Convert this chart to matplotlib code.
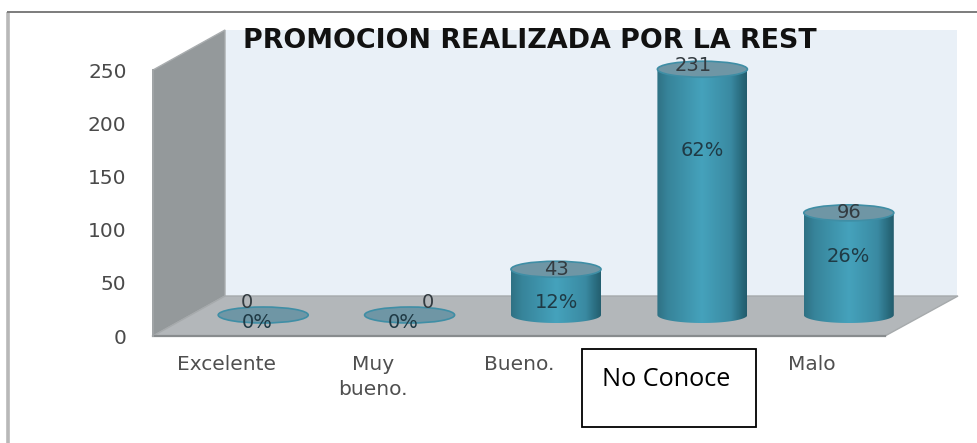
import numpy as np
import matplotlib
matplotlib.use("Agg")
import matplotlib.pyplot as plt
from matplotlib.patches import Polygon, Ellipse, Rectangle
from matplotlib.colors import LinearSegmentedColormap
from matplotlib.transforms import Affine2D

categories = ["Excelente", "Muy\nbueno.", "Bueno.", "No Conoce", "Malo"]
values = [0, 0, 43, 231, 96]
percents = ["0%", "0%", "12%", "62%", "26%"]
yticks = [0, 50, 100, 150, 200, 250]
title = "PROMOCION REALIZADA POR LA REST"

# Label placement (pixels, relative to the cap of each cylinder / its base)
value_dx = [-16, 18, 0, -9, 0]
value_dy = [13, 13, 0, 4, 0]
percent_dx = [-6, -6, 1, 0, 0]
percent_dy = [-8, -8, 12, 165, 59]

W, H = 978, 443
fig = plt.figure(figsize=(W / 100, H / 100), dpi=100, facecolor="white")

def px_axes(l, r, t, b):
    return [l / W, 1 - b / H, (r - l) / W, (b - t) / H]

# Frame in figure pixels: only top and left lines are visible
bg = fig.add_axes([0, 0, 1, 1], zorder=0)
bg.set_xlim(0, W); bg.set_ylim(H, 0); bg.axis("off")
bg.plot([8, 8], [12, H], color="#b8b8b8", lw=2.6, solid_capstyle="butt")
bg.plot([7, W], [12, 12], color="#7c7c7c", lw=1.4, solid_capstyle="butt")

ax = fig.add_axes(px_axes(153, 885, 70, 336), zorder=1)
ax.patch.set_alpha(0)
ax.set_xlim(-0.5, 4.5)
ax.set_ylim(0, 250)
for s in ax.spines.values():
    s.set_visible(False)

depth_x, depth_y = 72, 40
back = ax.transData + Affine2D().translate(depth_x, depth_y)
mid = ax.transData + Affine2D().translate(37, 21)

ax.add_patch(Polygon([(-0.5, 0), (4.5, 0), (4.5, 250), (-0.5, 250)], transform=back,
                     fc="#e9f0f7", ec="none", zorder=1, clip_on=False))
side = np.array([[153, 336], [225, 296], [225, 30], [153, 70]], float)
floor = np.array([[153, 336], [225, 296], [958, 296], [885, 336]], float)
to_fig = Affine2D().scale(1, -1).translate(0, H)
ax.add_patch(Polygon(side, transform=to_fig, fc="#94999b", ec="#a9adaf", lw=1, zorder=2, clip_on=False))
ax.add_patch(Polygon(floor, transform=to_fig, fc="#b3b7ba", ec="#a6aaac", lw=1, zorder=2, clip_on=False))
ax.plot([-0.5, 4.5], [0, 0], color="#888c8e", lw=1.6, zorder=3, clip_on=False)
ax.plot([-0.5, -0.5], [0, 250], color="#a0a4a6", lw=1.4, zorder=3, clip_on=False)

cmap = LinearSegmentedColormap.from_list(
    "cyl", [(0, "#2f7184"), (0.12, "#37849a"), (0.5, "#45a2bc"), (0.82, "#3a8aa2"), (0.93, "#2a6d80"), (1, "#235c6c")])
grad = np.linspace(0, 1, 256).reshape(1, -1)

hw = 45 / 146.4
eh = 8 / 1.064
theta = np.linspace(np.pi, 2 * np.pi, 60)
for i, v in enumerate(values):
    if v > 0:
        xs = i + hw * np.cos(theta)
        ys = eh * np.sin(theta)
        pts = list(zip(xs, ys)) + [(i + hw, v), (i - hw, v)]
        clip = Polygon(pts, transform=mid, fc="none", ec="none", clip_on=False)
        ax.add_patch(clip)
        im = ax.imshow(grad, extent=[i - hw, i + hw, -eh, v], transform=mid, cmap=cmap,
                       aspect="auto", zorder=4, interpolation="bilinear")
        im.set_clip_box(fig.bbox)
        im.set_clip_path(clip)
    ax.add_patch(Ellipse((i, v), 2 * hw, 2 * eh, transform=mid, fc="#6f96a5",
                         ec="#3f8ea5", lw=1.2, zorder=5, clip_on=False))
    ax.annotate(str(v), xy=(i, v), xycoords=mid, xytext=(value_dx[i], value_dy[i]),
                textcoords=Affine2D().translate(*mid.transform((i, v))),
                ha="center", va="center", fontsize=14, color="#333b40", zorder=6,
                annotation_clip=False)
    ax.annotate(percents[i], xy=(i, 0), xycoords=mid, xytext=(percent_dx[i], percent_dy[i]),
                textcoords=Affine2D().translate(*mid.transform((i, 0))),
                ha="center", va="center", fontsize=14, color="#1f3a45", zorder=6,
                annotation_clip=False)

ax.set_xlim(-0.5, 4.5)
ax.set_ylim(0, 250)
ax.set_yticks(yticks)
ax.set_yticklabels([str(t) for t in yticks], fontsize=14.5, color="#4a4a4a")
ax.set_xticks(range(len(categories)))
ax.set_xticklabels(categories, fontsize=14.5, color="#4f4f4f", linespacing=1.35, va="top")
ax.get_xticklabels()[3].set_visible(False)  # covered by the overlaid box in the reference
ax.tick_params(axis="both", length=0)
ax.tick_params(axis="y", pad=19)
ax.tick_params(axis="x", pad=14)
ax.set_title(title, fontsize=19.4, fontweight="bold", family="DejaVu Sans", color="#111111",
             x=(530 - 153) / 732, y=1 + (70 - 41) / 266, va="center", ha="center", pad=0)

# Overlaid text box
top = fig.add_axes([0, 0, 1, 1], zorder=3)
top.set_xlim(0, W); top.set_ylim(H, 0); top.axis("off")
top.add_patch(Rectangle((581.5, 348.5), 174, 78, fc="white", ec="black", lw=1.3))
top.text(666.5, 379, categories[3], ha="center", va="center", fontsize=18.2, family="Open Sans", color="black")

fig.savefig("out.png", dpi=100)
